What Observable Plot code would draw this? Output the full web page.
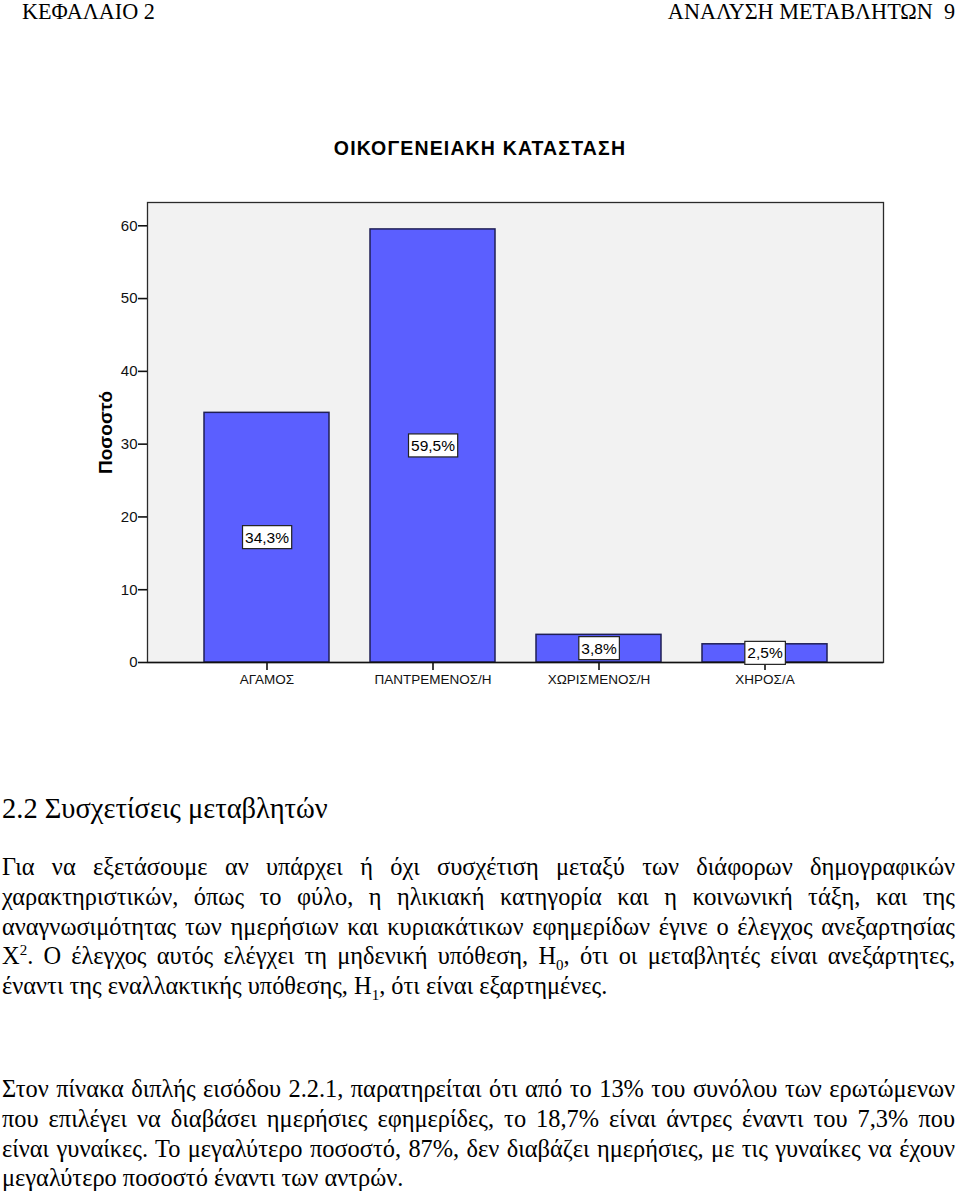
<!DOCTYPE html>
<html><head><meta charset="utf-8">
<script src="https://cdn.jsdelivr.net/npm/d3@7"></script>
<script src="https://cdn.jsdelivr.net/npm/@observablehq/plot@0.6"></script>
<style>
body{margin:0;background:#fff;width:960px;height:1203px;position:relative;overflow:hidden;color:#000}
.serif{font-family:"Liberation Serif","Times New Roman",serif}
.hdr{position:absolute;top:1px;font-size:22.2px;line-height:1;white-space:pre}
#title{position:absolute;top:139px;left:0;width:960px;text-align:center;font-family:"Liberation Sans",Arial,sans-serif;font-weight:bold;font-size:19.5px;line-height:1;letter-spacing:1.15px}
#chart{position:absolute;top:190px;left:0}
#h2{position:absolute;top:795px;left:2px;font-size:28.5px;line-height:1;white-space:nowrap}
.para{position:absolute;left:2px;width:953px;font-size:24.4px}
.para div{height:29.75px;line-height:29.75px;white-space:nowrap;text-align:justify;text-align-last:justify}
.para div.last{text-align:left;text-align-last:left}
sup,sub{font-size:15px;line-height:0}
</style></head><body>
<div class="hdr serif" style="left:22px">ΚΕΦΑΛΑΙΟ 2</div>
<div class="hdr serif" style="right:5px">ΑΝΑΛΥΣΗ ΜΕΤΑΒΛΗΤΩΝ  9</div>
<div id="title">ΟΙΚΟΓΕΝΕΙΑΚΗ ΚΑΤΑΣΤΑΣΗ</div>
<div id="chart"></div>
<div id="h2" class="serif">2.2 Συσχετίσεις μεταβλητών</div>
<div class="para serif" style="top:852px">
<div>Για να εξετάσουμε αν υπάρχει ή όχι συσχέτιση μεταξύ των διάφορων δημογραφικών</div>
<div>χαρακτηριστικών, όπως το φύλο, η ηλικιακή κατηγορία και η κοινωνική τάξη, και της</div>
<div>αναγνωσιμότητας των ημερήσιων και κυριακάτικων εφημερίδων έγινε ο έλεγχος ανεξαρτησίας</div>
<div>Χ<sup>2</sup>. Ο έλεγχος αυτός ελέγχει τη μηδενική υπόθεση, Η<sub>0</sub>, ότι οι μεταβλητές είναι ανεξάρτητες,</div>
<div class="last">έναντι της εναλλακτικής υπόθεσης, Η<sub>1</sub>, ότι είναι εξαρτημένες.</div>
</div>
<div class="para serif" style="top:1074px">
<div>Στον πίνακα διπλής εισόδου 2.2.1, παρατηρείται ότι από το 13% του συνόλου των ερωτώμενων</div>
<div>που επιλέγει να διαβάσει ημερήσιες εφημερίδες, το 18,7% είναι άντρες έναντι του 7,3% που</div>
<div>είναι γυναίκες. Το μεγαλύτερο ποσοστό, 87%, δεν διαβάζει ημερήσιες, με τις γυναίκες να έχουν</div>
<div class="last">μεγαλύτερο ποσοστό έναντι των αντρών.</div>
</div>
<script>
const categories = ["ΑΓΑΜΟΣ", "ΠΑΝΤΡΕΜΕΝΟΣ/Η", "ΧΩΡΙΣΜΕΝΟΣ/Η", "ΧΗΡΟΣ/Α"];
const percents = [34.3, 59.5, 3.8, 2.5];
const yTicks = [0, 10, 20, 30, 40, 50, 60];
const yLabel = "Ποσοστό";

const data = categories.map((c, i) => ({
  cat: c,
  v: percents[i],
  label: percents[i].toFixed(1).replace(".", ",") + "%"
}));
const labelSet = new Set(data.map(d => d.label));

const plot = Plot.plot({
  width: 960, height: 510,
  marginLeft: 147, marginRight: 77, marginTop: 12, marginBottom: 38,
  style: {fontFamily: "'Liberation Sans', Arial, sans-serif", background: "transparent", overflow: "visible", color: "#111"},
  x: {domain: categories, paddingInner: 0.25, paddingOuter: 0.34, label: null},
  y: {domain: [0, 63.2], label: null},
  marks: [
    Plot.frame({fill: "#f2f2f2", stroke: "#2a2a2a", strokeWidth: 1.3}),
    Plot.barY(data, {x: "cat", y: "v", fill: "#5b5fff", stroke: "#1f1f55", strokeWidth: 1.5}),
    Plot.ruleY([0], {stroke: "#111", strokeWidth: 1.6}),
    Plot.axisY({ticks: yTicks, tickSize: 9, tickPadding: 1, fontSize: 15, label: null, strokeWidth: 1.6}),
    Plot.axisX({tickSize: 8, tickPadding: 4, fontSize: 13.5, label: null, strokeWidth: 1.6}),
    Plot.text([yLabel], {frameAnchor: "left", text: d => d, rotate: -90, dx: -42, textAnchor: "middle", fontWeight: "bold", fontSize: 19, fill: "#000"}),
    Plot.text(data, {x: "cat", y: d => d.v / 2, text: "label", fontSize: 15.5, fill: "#000"})
  ]
});
document.getElementById("chart").append(plot);

// white boxes behind the value labels, sized from each rendered label
plot.querySelectorAll('g[aria-label="text"] text').forEach(t => {
  if (!labelSet.has(t.textContent)) return;
  const b = t.getBBox();
  const r = document.createElementNS("http://www.w3.org/2000/svg", "rect");
  r.setAttribute("x", b.x - 2.5);
  r.setAttribute("y", b.y - 3);
  r.setAttribute("width", b.width + 5);
  r.setAttribute("height", b.height + 6);
  r.setAttribute("fill", "#fff");
  r.setAttribute("stroke", "#222");
  r.setAttribute("stroke-width", 1.2);
  if (t.getAttribute("transform")) r.setAttribute("transform", t.getAttribute("transform"));
  t.parentNode.insertBefore(r, t);
});
</script>
</body></html>
